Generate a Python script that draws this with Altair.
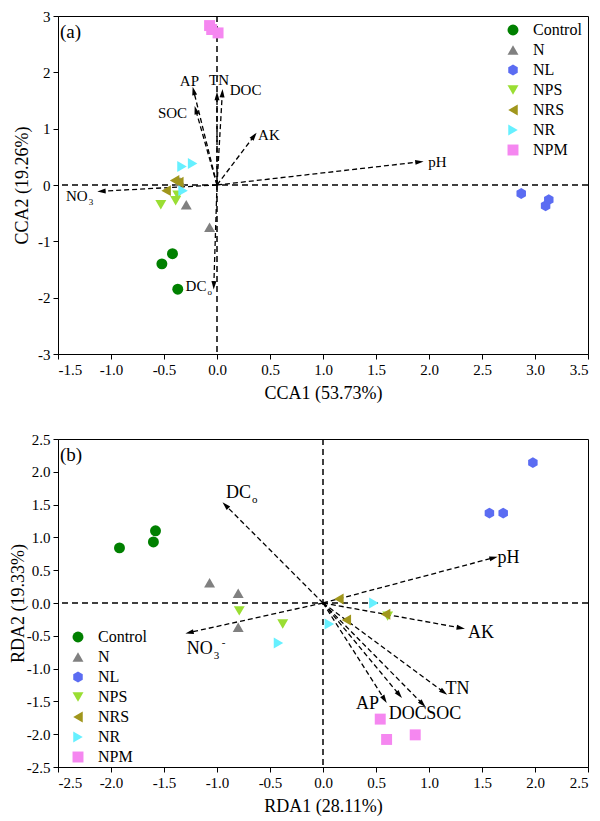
import altair as alt
import numpy as np
import pandas as pd

FONT = "Liberation Serif"

groups = ["Control", "N", "NL", "NPS", "NRS", "NR", "NPM"]
colors = ["#008000", "#808080", "#5b6cf2", "#9ade33", "#a0961c", "#66f0ff", "#f587f0"]
hexagon = "M0,-1L0.866,-0.5L0.866,0.5L0,1L-0.866,0.5L-0.866,-0.5Z"
shapes = ["circle", "triangle-up", hexagon, "triangle-down", "triangle-left", "triangle-right", "square"]
arrow_head = "M0,-1L0.6,1L-0.6,1Z"

site_group = ["Control"] * 3 + ["N"] * 3 + ["NL"] * 3 + ["NPS"] * 3 + ["NRS"] * 3 + ["NR"] * 3 + ["NPM"] * 3

# (a) CCA site scores
cca_x = [-0.42, -0.52, -0.37, -0.07, -0.29, -0.35, 2.87, 3.10, 3.13, -0.53, -0.39, -0.37,
         -0.40, -0.48, -0.36, -0.33, -0.23, -0.32, -0.07, -0.05, 0.01]
cca_y = [-1.22, -1.40, -1.85, -0.75, -0.35, 0.06, -0.15, -0.37, -0.26, -0.35, -0.28, -0.18,
         0.08, -0.10, 0.05, 0.33, 0.38, -0.10, 2.83, 2.76, 2.70]
# (a) CCA environmental arrows
cca_arrow = ["pH", "NO3", "AP", "SOC", "TN", "DOC", "AK", "DCo"]
cca_ax = [1.91, -1.09, -0.22, -0.20, 0.00, 0.05, 0.35, -0.03]
cca_ay = [0.41, -0.11, 1.67, 1.33, 1.58, 1.63, 0.87, -1.78]
cca_lab = ["pH", "AP", "SOC", "TN", "DOC", "AK"]
cca_lx = [2.08, -0.26, -0.42, 0.02, 0.27, 0.49]
cca_ly = [0.41, 1.85, 1.28, 1.87, 1.69, 0.89]
cca_sub_main = ["NO", "DC"]
cca_sub_txt = ["3", "o"]
cca_sub_sup = ["", ""]
cca_sx = [-1.22, -0.10]
cca_sy = [-0.20, -1.79]

# (b) RDA site scores
rda_x = [-1.92, -1.60, -1.58, -1.07, -0.80, -0.80, 1.98, 1.57, 1.70, -0.79, -0.38, 0.61,
         0.15, 0.22, 0.59, 0.48, 0.06, -0.42, 0.54, 0.60, 0.87]
rda_y = [0.84, 0.93, 1.10, 0.31, 0.15, -0.37, 2.14, 1.37, 1.37, -0.12, -0.32, -0.20,
         0.06, -0.26, -0.17, 0.00, -0.32, -0.61, -1.77, -2.08, -2.01]
# (b) RDA environmental arrows
rda_arrow = ["DCo", "pH", "NO3", "AK", "TN", "SOC", "DOC", "AP"]
rda_ax = [-0.92, 1.61, -1.26, 1.30, 1.14, 0.94, 0.72, 0.58]
rda_ay = [1.49, 0.69, -0.45, -0.38, -1.36, -1.54, -1.40, -1.47]
rda_lab = ["pH", "AK", "TN", "SOC", "DOC", "AP"]
rda_lx = [1.75, 1.49, 1.27, 1.14, 0.80, 0.42]
rda_ly = [0.69, -0.46, -1.31, -1.69, -1.69, -1.54]
rda_sub_main = ["DC", "NO"]
rda_sub_txt = ["o", "3"]
rda_sub_sup = ["", "-"]
rda_sx = [-0.68, -1.04]
rda_sy = [1.68, -0.70]


def panel(tag, sx_, sy_, ax_names, ax_x, ax_y, lab, lx, ly, smain, stxt, ssup, ssx, ssy,
          xdom, ydom, xvals, yvals, yfmt, w, h, xtitle, ytitle, ytx, lab_size, legx, legy):
    kx = w / (xdom[1] - xdom[0])
    ky = h / (ydom[1] - ydom[0])
    xs = alt.Scale(domain=xdom, nice=False, zero=False)
    ys = alt.Scale(domain=ydom, nice=False, zero=False)
    fix = "replace(datum.label, '\u2212', '-')"
    common = dict(labelFont=FONT, titleFont=FONT, labelFontSize=15, titleFontSize=18,
                  titleFontWeight="normal", labelColor="black", titleColor="black")
    xax = alt.Axis(values=xvals, format=".1f", labelExpr=fix, title=xtitle,
                   titleX=w / 2, titleY=39, titleBaseline="middle", **common)
    yax = alt.Axis(values=yvals, format=yfmt, labelExpr=fix, title=ytitle,
                   titleX=ytx, titleY=h / 2, titleBaseline="middle", **common)
    X = lambda f, **k: alt.X(f, scale=xs, axis=xax, **k)
    Y = lambda f, **k: alt.Y(f, scale=ys, axis=yax, **k)

    pts = pd.DataFrame({"x": sx_, "y": sy_, "group": site_group})
    one = pd.DataFrame({"z": [0.0], "tag": [tag]})
    ax = np.array(ax_x); ay = np.array(ax_y)
    ang = (np.degrees(np.arctan2(ax * kx, ay * ky)) + 360) % 360
    arr = pd.DataFrame({"name": ax_names, "ox": 0.0, "oy": 0.0, "tx": ax, "ty": ay, "ang": ang})
    labs = pd.DataFrame({"t": lab, "x": lx, "y": ly})
    subs = pd.DataFrame({"main": smain, "sub": stxt, "sup": ssup, "x": ssx, "y": ssy})

    zero_h = alt.Chart(one).mark_rule(color="black", strokeDash=[6, 4], strokeWidth=1.5).encode(
        y=Y("z:Q"))
    zero_v = alt.Chart(one).mark_rule(color="black", strokeDash=[6, 4], strokeWidth=1.5).encode(
        x=X("z:Q"))
    lines = alt.Chart(arr).mark_rule(color="black", strokeDash=[5, 3], strokeWidth=1.3).encode(
        x=X("ox:Q"), y=Y("oy:Q"), x2="tx:Q", y2="ty:Q")
    heads = alt.Chart(arr).mark_point(shape=arrow_head, filled=True, color="black", opacity=1,
                                      size=70).encode(
        x=X("tx:Q"), y=Y("ty:Q"), angle=alt.Angle("ang:Q", scale=None))
    leg = alt.Legend(title=None, orient="none", legendX=legx, legendY=legy, padding=0,
                     labelFont=FONT, labelFontSize=16, labelColor="black", symbolSize=120,
                     symbolOpacity=1, symbolStrokeWidth=0, rowPadding=4, labelOffset=12)
    points = alt.Chart(pts).mark_point(filled=True, opacity=1, size=120, strokeWidth=0).encode(
        x=X("x:Q"), y=Y("y:Q"),
        color=alt.Color("group:N", scale=alt.Scale(domain=groups, range=colors), legend=leg),
        shape=alt.Shape("group:N", scale=alt.Scale(domain=groups, range=shapes), legend=leg))
    plain = alt.Chart(labs).mark_text(font=FONT, fontSize=lab_size, color="black").encode(
        x=X("x:Q"), y=Y("y:Q"), text="t:N")
    smain_l = alt.Chart(subs).mark_text(font=FONT, fontSize=lab_size, color="black",
                                        align="right").encode(x=X("x:Q"), y=Y("y:Q"), text="main:N")
    ssub_l = alt.Chart(subs).mark_text(font=FONT, fontSize=round(lab_size * 0.62), color="black",
                                       align="left", dx=1, dy=round(lab_size * 0.38)).encode(
        x=X("x:Q"), y=Y("y:Q"), text="sub:N")
    ssup_l = alt.Chart(subs).mark_text(font=FONT, fontSize=round(lab_size * 0.62), color="black",
                                       align="left", dx=round(lab_size * 0.5),
                                       dy=-round(lab_size * 0.35)).encode(
        x=X("x:Q"), y=Y("y:Q"), text="sup:N")
    tag_l = alt.Chart(one).mark_text(font=FONT, fontSize=19, color="black", align="left",
                                     baseline="middle").encode(
        x=alt.value(2), y=alt.value(16), text="tag:N")
    return alt.layer(zero_h, zero_v, lines, heads, points, plain, smain_l, ssub_l, ssup_l,
                     tag_l).properties(width=w, height=h)


top = panel("(a)", cca_x, cca_y, cca_arrow, cca_ax, cca_ay, cca_lab, cca_lx, cca_ly,
            cca_sub_main, cca_sub_txt, cca_sub_sup, cca_sx, cca_sy,
            [-1.5, 3.5], [-3, 3], [-1.5, -1.0, -0.5, 0.0, 0.5, 1.0, 1.5, 2.0, 2.5, 3.0, 3.5],
            [-3, -2, -1, 0, 1, 2, 3], "d", 530, 338, "CCA1 (53.73%)", "CCA2 (19.26%)", -36,
            15, 447, 6)
bottom = panel("(b)", rda_x, rda_y, rda_arrow, rda_ax, rda_ay, rda_lab, rda_lx, rda_ly,
               rda_sub_main, rda_sub_txt, rda_sub_sup, rda_sx, rda_sy,
               [-2.5, 2.5], [-2.5, 2.5], [-2.5, -2.0, -1.5, -1.0, -0.5, 0.0, 0.5, 1.0, 1.5, 2.0, 2.5],
               [-2.5, -2.0, -1.5, -1.0, -0.5, 0.0, 0.5, 1.0, 1.5, 2.0, 2.5], ".1f", 530, 328,
               "RDA1 (28.11%)", "RDA2 (19.33%)", -40, 18, 12, 190)

chart = alt.vconcat(top, bottom, spacing=28).resolve_scale(
    color="independent", shape="independent").resolve_legend(
    color="independent", shape="independent").properties(
    padding={"left": 0, "top": 0, "right": 0, "bottom": 0}).configure_view(
    stroke="black", strokeWidth=1).configure_axis(
    grid=False, domainColor="black", tickColor="black", labelColor="black", titleColor="black",
    labelFont=FONT, titleFont=FONT, labelFontSize=15, titleFontSize=18, titleFontWeight="normal",
    tickSize=5, labelPadding=3, domainWidth=1, tickWidth=1)

chart.save("out.html", embed_options={"renderer": "svg", "actions": False})
